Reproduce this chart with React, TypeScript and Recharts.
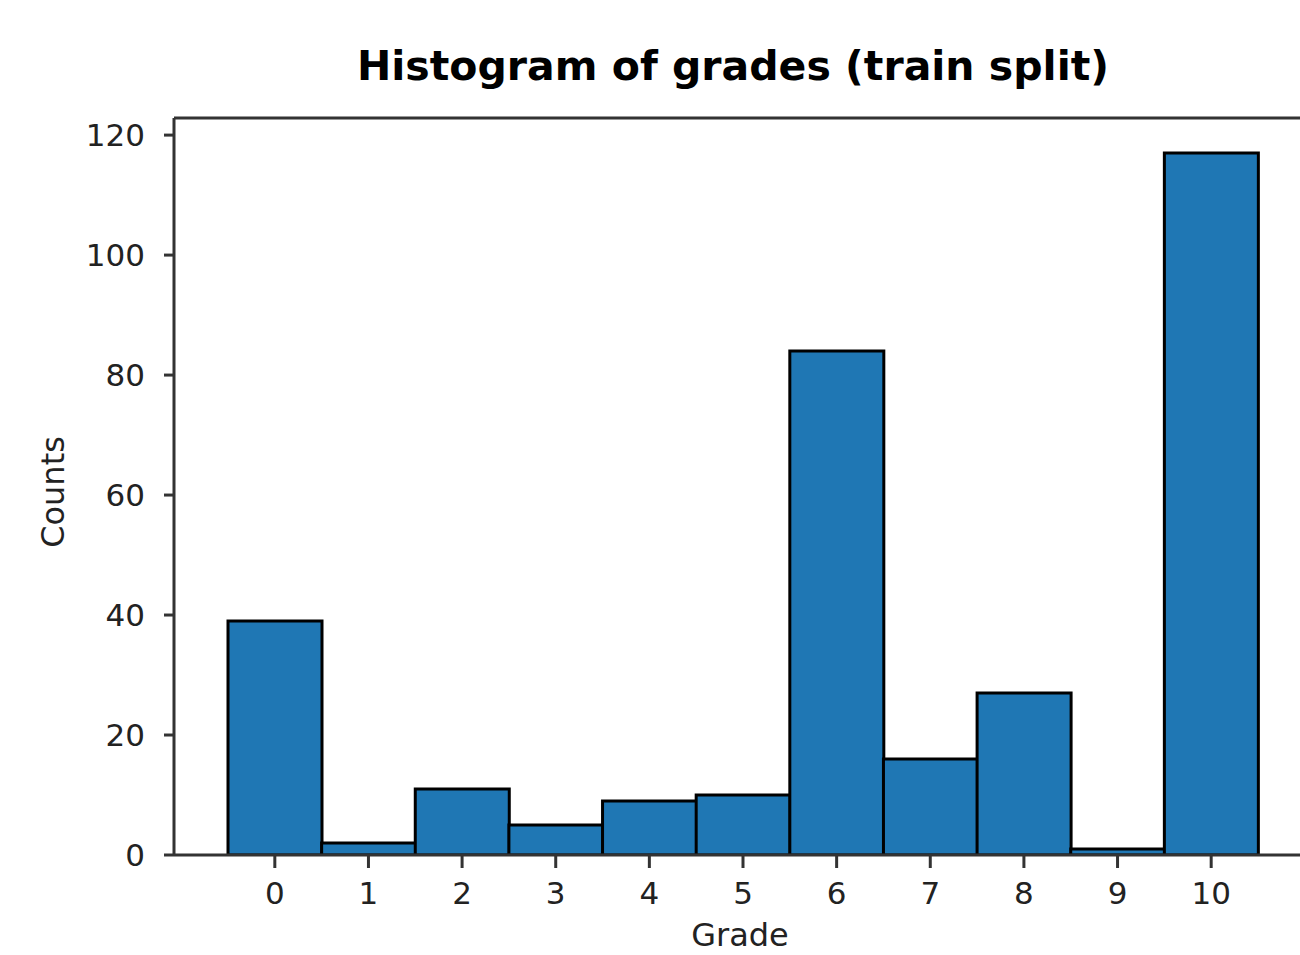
import { Bar, BarChart, ReferenceLine, XAxis, YAxis } from "recharts"

const grades = ["0", "1", "2", "3", "4", "5", "6", "7", "8", "9", "10"]
const counts = [39, 2, 11, 5, 9, 10, 84, 16, 27, 1, 117]
const countTicks = [0, 20, 40, 60, 80, 100, 120]
const countMax = 122.85

const data = grades.map((grade, i) => ({ grade, count: counts[i] }))

const spine = "#333333"
const tickStyle = { fontSize: 31, fill: "#222222", fontFamily: "DejaVu Sans" }

export default function App() {
  return (
    <div
      style={{
        position: "absolute",
        left: 0,
        top: 0,
        width: 1300,
        height: 955,
        overflow: "hidden",
        background: "#ffffff",
        fontFamily: "DejaVu Sans",
      }}
    >
      <BarChart
        width={1320}
        height={955}
        data={data}
        barCategoryGap={0}
        margin={{ top: 118, right: 12, bottom: 0, left: 0 }}
      >
        <XAxis
          dataKey="grade"
          height={100}
          padding={{ left: 54, right: 50 }}
          axisLine={{ stroke: spine, strokeWidth: 3 }}
          tickLine={{ stroke: spine, strokeWidth: 3 }}
          tickSize={13}
          tickMargin={14}
          tick={tickStyle}
          interval={0}
        />
        <YAxis
          width={174}
          domain={[0, countMax]}
          ticks={countTicks}
          allowDataOverflow
          axisLine={{ stroke: spine, strokeWidth: 3 }}
          tickLine={{ stroke: spine, strokeWidth: 3 }}
          tickSize={10}
          tickMargin={19}
          tick={tickStyle}
        />
        {/* top spine */}
        <ReferenceLine y={countMax} stroke={spine} strokeWidth={3} />
        <Bar
          dataKey="count"
          fill="#1f77b4"
          stroke="#000000"
          strokeWidth={3}
          isAnimationActive={false}
        />
      </BarChart>

      <div
        style={{
          position: "absolute",
          left: 0,
          width: 1466,
          top: 42,
          textAlign: "center",
          fontSize: 41,
          fontWeight: "bold",
          color: "#000000",
        }}
      >
        Histogram of grades (train split)
      </div>
      <div
        style={{
          position: "absolute",
          left: 0,
          width: 1480,
          top: 917,
          textAlign: "center",
          fontSize: 32,
          lineHeight: "36px",
          color: "#222222",
        }}
      >
        Grade
      </div>
      <div
        style={{
          position: "absolute",
          left: 53,
          top: 492,
          transform: "translate(-50%, -50%) rotate(-90deg)",
          fontSize: 32,
          color: "#222222",
          whiteSpace: "nowrap",
        }}
      >
        Counts
      </div>
    </div>
  )
}
